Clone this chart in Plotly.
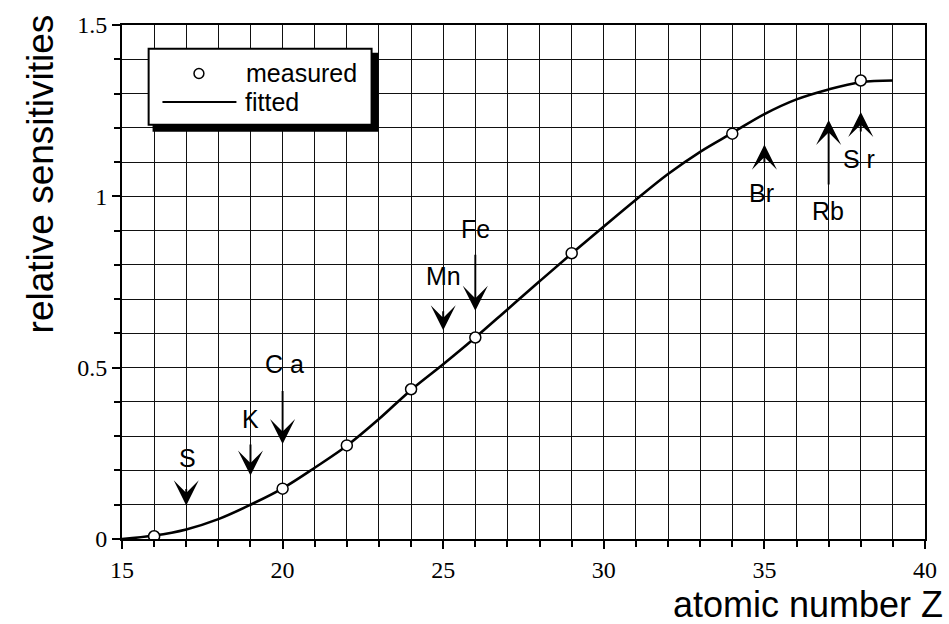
import plotly.graph_objects as go

# measured relative sensitivities
z_measured = [16, 20, 22, 24, 26, 29, 34, 38]
s_measured = [0.008, 0.147, 0.273, 0.437, 0.588, 0.834, 1.183, 1.338]

# fitted curve, sampled at integer Z
z_fit = [15, 16, 17, 18, 19, 20, 21, 22, 23, 24, 25, 26, 27,
         28, 29, 30, 31, 32, 33, 34, 35, 36, 37, 38, 39]
s_fit = [0.0, 0.01, 0.028, 0.058, 0.10, 0.148, 0.208, 0.272, 0.35, 0.435,
         0.51, 0.588, 0.67, 0.752, 0.833, 0.912, 0.99, 1.065, 1.13, 1.185,
         1.24, 1.283, 1.312, 1.333, 1.338]

# element markers: name, Z, arrow tail, arrow tip, label position
elements = ["S", "K", "C a", "Mn", "Fe", "Br", "Rb", "S r"]
elem_z = [17, 19, 20, 25, 26, 35, 37, 38]
arrow_tail = [0.150, 0.280, 0.436, 0.669, 0.834, 1.093, 1.030, 1.185]
arrow_tip = [0.098, 0.185, 0.277, 0.609, 0.666, 1.151, 1.223, 1.246]
label_z = [17.03, 19.0, 20.07, 25.0, 26.0, 34.9, 36.98, 37.95]
label_s = [0.237, 0.349, 0.510, 0.767, 0.906, 1.011, 0.958, 1.108]

x_ticks = [15, 20, 25, 30, 35, 40]
y_ticks = [0, 0.5, 1, 1.5]
y_ticktext = ["0", "0.5", "1", "1.5"]

SANS = "Liberation Sans, Arial, sans-serif"
SERIF = "Liberation Serif, Times New Roman, serif"

fig = go.Figure()

fig.add_trace(go.Scatter(
    x=z_fit, y=s_fit, mode="lines", line_shape="spline",
    line=dict(color="black", width=2.6), name="fitted", showlegend=False))

fig.add_trace(go.Scatter(
    x=z_measured, y=s_measured, mode="markers",
    marker=dict(symbol="circle", size=11, color="white",
                line=dict(color="black", width=1.5)),
    name="measured", showlegend=False))

annotations = []
for name, z, tail, tip, lz, ls in zip(elements, elem_z, arrow_tail, arrow_tip,
                                      label_z, label_s):
    annotations.append(dict(
        x=z, y=tip, ax=z, ay=tail, xref="x", yref="y", axref="x", ayref="y",
        showarrow=True, arrowhead=3, arrowsize=2.2, arrowwidth=1.9,
        arrowcolor="black", text=""))
    annotations.append(dict(
        x=lz, y=ls, xref="x", yref="y", text=name, showarrow=False,
        font=dict(family=SANS, size=25, color="black")))

# plot-area geometry in pixels, for placing items in paper coordinates
L, T, W, H = 122, 19, 814, 520


def px(xp):
    return (xp - L) / W


def py(yp):
    return (T + H - yp) / H


# axis titles
annotations.append(dict(
    x=px(956), y=py(605), xref="paper", yref="paper", text="atomic number Z",
    xanchor="right", yanchor="middle", showarrow=False,
    font=dict(family=SANS, size=36, color="black")))
annotations.append(dict(
    x=px(39), y=py(170), xref="paper", yref="paper",
    text="relative sensitivities", textangle=-90, showarrow=False,
    xanchor="center", yanchor="middle",
    font=dict(family=SANS, size=37, color="black")))

# legend entries
annotations.append(dict(
    x=px(246), y=py(68), xref="paper", yref="paper", text="measured",
    xanchor="left", yanchor="middle", showarrow=False,
    font=dict(family=SANS, size=25, color="black")))
annotations.append(dict(
    x=px(245), y=py(97), xref="paper", yref="paper", text="fitted",
    xanchor="left", yanchor="middle", showarrow=False,
    font=dict(family=SANS, size=25, color="black")))

shapes = [
    dict(type="rect", xref="paper", yref="paper", layer="above",
         x0=px(153), x1=px(382), y0=py(127), y1=py(47),
         fillcolor="black", line=dict(width=0)),
    dict(type="rect", xref="paper", yref="paper", layer="above",
         x0=px(149), x1=px(375), y0=py(120), y1=py(43),
         fillcolor="white", line=dict(color="black", width=2)),
    dict(type="line", xref="paper", yref="paper", layer="above",
         x0=px(163), x1=px(238), y0=py(97), y1=py(97),
         line=dict(color="black", width=2)),
    dict(type="circle", xref="paper", yref="paper", layer="above",
         x0=px(195), x1=px(205), y0=py(73), y1=py(63),
         fillcolor="white", line=dict(color="black", width=1.5)),
]

grid_color = "#111111"
fig.update_layout(
    width=949, height=624,
    margin=dict(l=L, r=949 - L - W, t=T, b=624 - T - H),
    paper_bgcolor="white", plot_bgcolor="white",
    showlegend=False,
    annotations=annotations,
    shapes=shapes,
    xaxis=dict(
        range=[15, 40], tickvals=x_ticks, ticks="outside", ticklen=8,
        tickwidth=1.5, tickcolor="black",
        showgrid=True, gridcolor=grid_color, gridwidth=1.2,
        showline=True, linecolor="black", linewidth=2, mirror=True,
        zeroline=False,
        tickfont=dict(family=SERIF, size=24, color="black"),
        minor=dict(dtick=1, tick0=15, ticks="outside", ticklen=6,
                   tickcolor="black", showgrid=True,
                   gridcolor=grid_color, gridwidth=1.2),
    ),
    yaxis=dict(
        range=[0, 1.5], tickvals=y_ticks, ticktext=y_ticktext,
        ticks="outside", ticklen=8, tickwidth=1.5, tickcolor="black",
        showgrid=True, gridcolor=grid_color, gridwidth=1.2,
        showline=True, linecolor="black", linewidth=2, mirror=True,
        zeroline=False,
        tickfont=dict(family=SERIF, size=24, color="black"),
        minor=dict(dtick=0.1, tick0=0, ticks="outside", ticklen=6,
                   tickcolor="black", showgrid=True,
                   gridcolor=grid_color, gridwidth=1.2),
    ),
)

fig.write_html("out.html")
